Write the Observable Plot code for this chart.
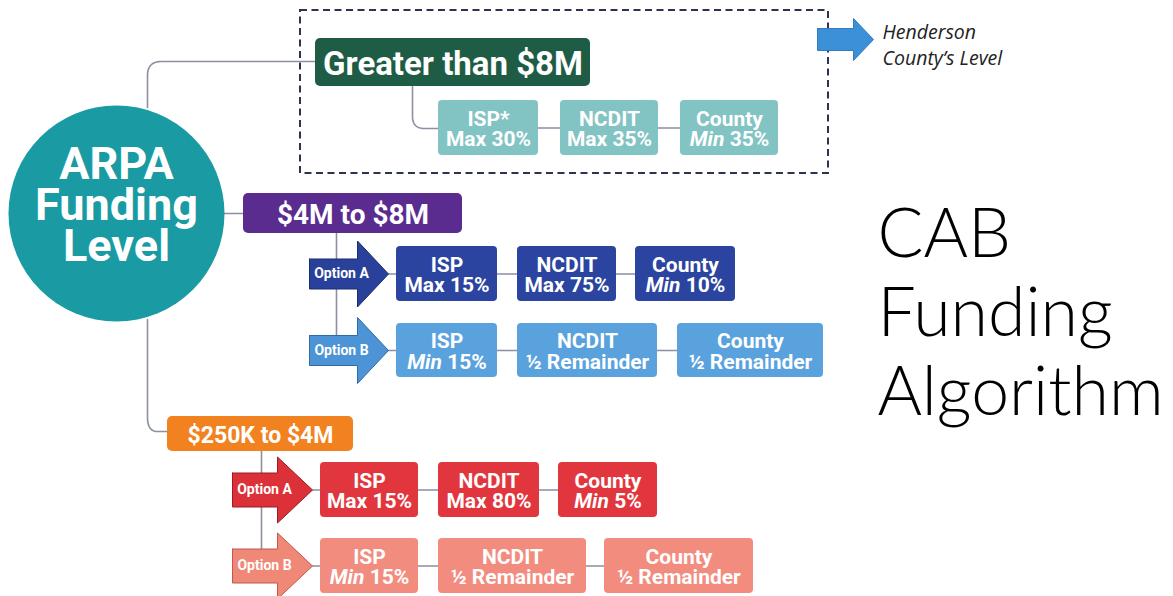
<!DOCTYPE html>
<html>
<head>
<meta charset="utf-8">
<script src="https://cdn.jsdelivr.net/npm/d3@7"></script>
<script src="https://cdn.jsdelivr.net/npm/@observablehq/plot@0.6"></script>
<style>
  html, body { margin: 0; padding: 0; background: #ffffff; }
  #chart svg { display: block; }
</style>
</head>
<body>
<div id="chart"></div>
<script>
// ---------------- DATA (text content of the diagram) ----------------
const rootLabel = "ARPA\nFunding\nLevel";
const tiers = ["Greater than $8M", "$4M to $8M", "$250K to $4M"];
const optionNames = ["Option A", "Option B"];
const parties = ["ISP", "NCDIT", "County"];
const partiesOver8M = ["ISP*", "NCDIT", "County"];
const sharesOver8M = ["Max 30%", "Max 35%", "Min 35%"];
const sharesMidA = ["Max 15%", "Max 75%", "Min 10%"];
const sharesMidB = ["Min 15%", "½ Remainder", "½ Remainder"];
const sharesLowA = ["Max 15%", "Max 80%", "Min 5%"];
const sharesLowB = ["Min 15%", "½ Remainder", "½ Remainder"];
const legendLabel = "Henderson\nCounty’s Level";
const titleLines = ["CAB", "Funding", "Algorithm"];

// ---------------- LAYOUT & STYLE (diagram geometry, in page units) ----------------
const W = 1173, H = 596;
const LINE = "#8b90a3";
const root = {cx: 116, cy: 213, r: 108, fill: "#1a9aa3"};
const tierLayout = [
  {x1: 315, x2: 590, y1: 38, y2: 86, fill: "#1f5c45", size: 33},
  {x1: 243, x2: 462, y1: 193, y2: 233, fill: "#5b2c8f", size: 28},
  {x1: 167, x2: 353, y1: 416, y2: 451, fill: "#f2821f", size: 23}
];
const rowLayout = [
  {tier: 0, option: null, names: partiesOver8M, shares: sharesOver8M, y1: 100, y2: 155, xs: [438, 560, 680], ws: [100, 98, 98], fill: "#82c3c4"},
  {tier: 1, option: 0, names: parties, shares: sharesMidA, y1: 246, y2: 301, xs: [396, 517, 635], ws: [101, 99, 100], fill: "#2a449f",
   arrow: {x0: 309, xh: 357, tip: 388, bh: 15, hh: 33, fill: "#2a419c", stroke: "#1b2c72"}},
  {tier: 1, option: 1, names: parties, shares: sharesMidB, y1: 323, y2: 377, xs: [396, 517, 677], ws: [101, 140, 146], fill: "#5aa2dd",
   arrow: {x0: 309, xh: 357, tip: 388, bh: 15, hh: 33, fill: "#4c94d6", stroke: "#2e6aa6"}},
  {tier: 2, option: 0, names: parties, shares: sharesLowA, y1: 462, y2: 517, xs: [320, 438, 558], ws: [98, 101, 99], fill: "#e1363d",
   arrow: {x0: 232, xh: 277, tip: 312, bh: 17, hh: 33, fill: "#dc3138", stroke: "#9c1d24"}},
  {tier: 2, option: 1, names: parties, shares: sharesLowB, y1: 538, y2: 593, xs: [320, 438, 604], ws: [98, 148, 149], fill: "#f28c7f",
   arrow: {x0: 232, xh: 277, tip: 312, bh: 17, hh: 33, fill: "#f08878", stroke: "#c0594b"}}
];
const dashedFrame = {x1: 300, x2: 828, y1: 10, y2: 173};
const legendArrow = {x0: 817, xh: 853, tip: 873, cy: 39, bh: 11, hh: 21, fill: "#3b90d8", stroke: "#2f7cc0"};

// ---------------- BUILD MARK DATA ----------------
function arrowPoly(id, a, cy) {
  const pts = [[a.x0, cy - a.bh], [a.xh, cy - a.bh], [a.xh, cy - a.hh], [a.tip, cy],
               [a.xh, cy + a.hh], [a.xh, cy + a.bh], [a.x0, cy + a.bh], [a.x0, cy - a.bh]];
  return pts.map(([x, y]) => ({id, x, y, fill: a.fill, stroke: a.stroke}));
}
function roundedPath(id, pts, r) {
  const out = [{id, x: pts[0][0], y: pts[0][1]}];
  for (let i = 1; i < pts.length - 1; i++) {
    const [px, py] = pts[i - 1], [cx, cy] = pts[i], [nx, ny] = pts[i + 1];
    const d1 = Math.hypot(cx - px, cy - py), d2 = Math.hypot(nx - cx, ny - cy);
    const r1 = Math.min(r, d1 / 2), r2 = Math.min(r, d2 / 2);
    const ax = cx - (cx - px) / d1 * r1, ay = cy - (cy - py) / d1 * r1;
    const bx = cx + (nx - cx) / d2 * r2, by = cy + (ny - cy) / d2 * r2;
    for (let k = 0; k <= 10; k++) {
      const t = k / 10, u = 1 - t;
      out.push({id, x: u * u * ax + 2 * u * t * cx + t * t * bx, y: u * u * ay + 2 * u * t * cy + t * t * by});
    }
  }
  const last = pts[pts.length - 1];
  out.push({id, x: last[0], y: last[1]});
  return out;
}

const connectors = [];
// root -> tiers
connectors.push(...roundedPath("c0", [[147, root.cy - root.r + 2], [147, (tierLayout[0].y1 + tierLayout[0].y2) / 2 - 1], [tierLayout[0].x1, (tierLayout[0].y1 + tierLayout[0].y2) / 2 - 1]], 14));
connectors.push(...roundedPath("c1", [[root.cx + root.r - 2, 213], [tierLayout[1].x1, 213]], 0));
connectors.push(...roundedPath("c2", [[147, root.cy + root.r - 2], [147, 431], [tierLayout[2].x1, 431]], 14));
// tier 0 -> its share row
connectors.push(...roundedPath("c3", [[412, tierLayout[0].y2], [412, 128], [rowLayout[0].xs[0], 128]], 12));
// tier 1 and tier 2 trunks down to option arrows
connectors.push(...roundedPath("c4", [[336, tierLayout[1].y2], [336, 345]], 0));
connectors.push(...roundedPath("c5", [[261, tierLayout[2].y2], [261, 562]], 0));
// row links
rowLayout.forEach((row, i) => {
  const cy = (row.y1 + row.y2) / 2;
  const start = row.arrow ? row.arrow.tip : row.xs[0];
  connectors.push(...roundedPath("r" + i, [[start, cy], [row.xs[2] + 10, cy]], 0));
});

const boxes = [];
const boxText = [];
rowLayout.forEach((row, i) => {
  row.names.forEach((name, j) => {
    boxes.push({x1: row.xs[j], x2: row.xs[j] + row.ws[j], y1: row.y1, y2: row.y2, fill: row.fill});
    boxText.push({x: row.xs[j] + row.ws[j] / 2, y: (row.y1 + row.y2) / 2 + 1.5, label: name + "\n" + row.shares[j]});
  });
});

const tierBoxes = tierLayout.map((t, i) => ({...t, label: tiers[i]}));

const arrows = [];
const optionText = [];
rowLayout.forEach((row, i) => {
  if (!row.arrow) return;
  const cy = (row.y1 + row.y2) / 2;
  arrows.push(...arrowPoly("a" + i, row.arrow, cy));
  optionText.push({x: row.arrow.x0 + 32, y: cy, label: optionNames[row.option]});
});
arrows.push(...arrowPoly("legend", legendArrow, legendArrow.cy));

// ---------------- PLOT ----------------
const BOLD = "Roboto, 'Liberation Sans', sans-serif";
const chart = Plot.plot({
  width: W,
  height: H,
  margin: 0,
  style: {background: "#ffffff", overflow: "visible"},
  x: {domain: [0, W], range: [0, W], axis: null},
  y: {domain: [0, H], range: [0, H], axis: null},
  color: {type: "identity"},
  marks: [
    Plot.rect([dashedFrame], {x1: "x1", x2: "x2", y1: "y1", y2: "y2", fill: "none", stroke: "#2b3350", strokeWidth: 2, strokeDasharray: "7,4.5"}),
    Plot.line(connectors, {x: "x", y: "y", z: "id", stroke: LINE, strokeWidth: 1.6, curve: "linear"}),
    Plot.dot([root], {x: "cx", y: "cy", r: root.r, fill: root.fill, stroke: "none"}),
    Plot.text([root], {x: "cx", y: () => 206, text: () => rootLabel, fill: "white", fontFamily: BOLD, fontWeight: 700, fontSize: 45, lineHeight: 0.91}),
    Plot.rect(tierBoxes, {x1: "x1", x2: "x2", y1: "y1", y2: "y2", fill: "fill", rx: 5}),
    Plot.text(tierBoxes, {x: d => (d.x1 + d.x2) / 2, y: d => (d.y1 + d.y2) / 2 + 1.5, text: "label", fill: "white", fontFamily: BOLD, fontWeight: 700, fontSize: d => d.size}),
    Plot.line(arrows, {x: "x", y: "y", z: "id", fill: "fill", stroke: "stroke", strokeWidth: 1, curve: "linear"}),
    Plot.text(optionText, {x: "x", y: "y", text: "label", fill: "white", fontFamily: BOLD, fontWeight: 700, fontSize: 14}),
    Plot.rect(boxes, {x1: "x1", x2: "x2", y1: "y1", y2: "y2", fill: "fill", rx: 4}),
    Plot.text(boxText, {x: "x", y: "y", text: "label", fill: "white", fontFamily: BOLD, fontWeight: 700, fontSize: 21, lineHeight: 0.98}),
    Plot.text([legendLabel], {x: () => 882, y: () => 43, text: d => d, textAnchor: "start", fill: "#222222", fontFamily: "'Open Sans', Lato, sans-serif", fontStyle: "italic", fontSize: 19.5, lineHeight: 1.36}),
    Plot.text([titleLines.join("\n")], {x: () => 877, y: () => 310, text: d => d, textAnchor: "start", fill: "#000000", fontFamily: "Lato, 'Open Sans', sans-serif", fontWeight: 300, fontSize: 68, lineHeight: 1.16})
  ]
});

// italicise the word "Min" inside share labels
chart.querySelectorAll("text, tspan").forEach(el => {
  if (el.children.length === 0 && /^Min /.test(el.textContent)) {
    const rest = el.textContent.slice(3);
    el.textContent = "";
    const it = document.createElementNS("http://www.w3.org/2000/svg", "tspan");
    it.setAttribute("font-style", "italic");
    it.textContent = "Min";
    el.appendChild(it);
    el.appendChild(document.createTextNode(rest));
  }
});

document.getElementById("chart").appendChild(chart);
</script>
</body>
</html>
